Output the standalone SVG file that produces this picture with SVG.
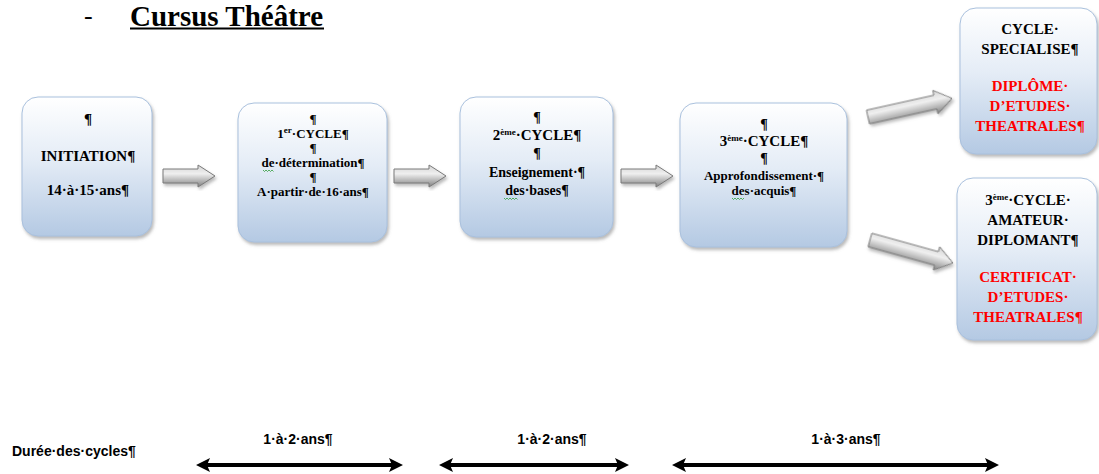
<svg xmlns="http://www.w3.org/2000/svg" width="1099" height="474" viewBox="0 0 1099 474">
<defs>
<linearGradient id="boxGrad" x1="0" y1="0" x2="0" y2="1">
<stop offset="0" stop-color="#ffffff"/>
<stop offset="0.45" stop-color="#e4ecf6"/>
<stop offset="1" stop-color="#b4c9e3"/>
</linearGradient>
<linearGradient id="arrGrad" x1="0" y1="0" x2="0" y2="1">
<stop offset="0" stop-color="#d4d4d4"/>
<stop offset="0.4" stop-color="#efefef"/>
<stop offset="1" stop-color="#808080"/>
</linearGradient>
<filter id="shadow" x="-10%" y="-10%" width="125%" height="125%">
<feDropShadow dx="1.5" dy="2.5" stdDeviation="1.5" flood-color="#7f7f7f" flood-opacity="0.55"/>
</filter>
<path id="hArrow" d="M0,-7 H35 V-11 L52,0 L35,11 V7 H0 Z"/>
<path id="dArrow" d="M0,-7 H69 V-12 L86,0 L69,12 V7 H0 Z"/>
<marker id="head" viewBox="0 0 14 14" markerWidth="14" markerHeight="14" refX="3" refY="7" orient="auto-start-reverse" markerUnits="userSpaceOnUse">
<path d="M0,0 L14,7 L0,14 L3,7 Z" fill="#000"/>
</marker>
</defs>
<style>
.box{fill:url(#boxGrad);stroke:#a9c0dd;stroke-width:1;filter:url(#shadow)}
.blk{fill:url(#arrGrad);stroke:#7a7a7a;stroke-width:1;filter:url(#shadow)}
.t{font-family:"Liberation Serif","Times New Roman",serif;font-weight:bold;fill:#000;text-anchor:middle}
.red{fill:#ff0000}
.s13{font-size:13px}
.s14{font-size:14px}
.s15{font-size:15px}
.sup{font-size:9px}
.sans{font-family:"Liberation Sans",Arial,sans-serif;font-weight:bold;font-size:14px;fill:#000}
.dbl{stroke:#000;stroke-width:4;fill:none;marker-start:url(#head);marker-end:url(#head)}
.sq{fill:none;stroke:#2e9c3a;stroke-width:0.8}
</style>

<g id="title">
<text x="84" y="24" font-family="Liberation Serif, serif" font-size="26">-</text>
<text x="130" y="25.5" font-family="Liberation Serif, serif" font-weight="bold" font-size="29">Cursus Théâtre</text>
<rect x="130" y="27.5" width="194" height="2" fill="#000"/>
</g>

<g id="node-initiation">
<rect class="box" x="22" y="97" width="130" height="139" rx="16"/>
<text class="t s15" x="88" y="124">¶</text>
<text class="t s15" x="88" y="161">INITIATION¶</text>
<text class="t s15" x="88" y="195">14·à·15·ans¶</text>
</g>

<g id="node-cycle1">
<rect class="box" x="238" y="103" width="149" height="139" rx="16"/>
<text class="t s13" x="313" y="123">¶</text>
<text class="t s13" x="313" y="138">1<tspan class="sup" dy="-5">er</tspan><tspan dy="5">·CYCLE¶</tspan></text>
<text class="t s13" x="313" y="152">¶</text>
<text class="t s13" x="313" y="167">de·détermination¶</text>
<path class="sq" d="M263,170 l1.5,1.5 l1.5,-1.5 l1.5,1.5 l1.5,-1.5 l1.5,1.5 l1.5,-1.5 l1.5,1.5"/>
<text class="t s13" x="313" y="181">¶</text>
<text class="t s13" x="313" y="196">A·partir·de·16·ans¶</text>
</g>

<g id="node-cycle2">
<rect class="box" x="460" y="97" width="153" height="140" rx="16"/>
<text class="t s14" x="537" y="122">¶</text>
<text class="t s15" x="537" y="140">2<tspan class="sup" dy="-5">ème</tspan><tspan dy="5">·CYCLE¶</tspan></text>
<text class="t s14" x="537" y="158">¶</text>
<text class="t s14" x="537" y="177">Enseignement·¶</text>
<text class="t s14" x="537" y="195">des·bases¶</text>
<path class="sq" d="M504,198 l1.5,1.5 l1.5,-1.5 l1.5,1.5 l1.5,-1.5 l1.5,1.5 l1.5,-1.5 l1.5,1.5 l1.5,-1.5 l1.5,1.5"/>
</g>

<g id="node-cycle3">
<rect class="box" x="680" y="103" width="167" height="144" rx="16"/>
<text class="t s14" x="764" y="129">¶</text>
<text class="t s15" x="764" y="146">3<tspan class="sup" dy="-5">ème</tspan><tspan dy="5">·CYCLE¶</tspan></text>
<text class="t s14" x="764" y="163">¶</text>
<text class="t s13" x="764" y="180">Approfondissement·¶</text>
<text class="t s13" x="764" y="195">des·acquis¶</text>
<path class="sq" d="M732,198 l1.5,1.5 l1.5,-1.5 l1.5,1.5 l1.5,-1.5 l1.5,1.5 l1.5,-1.5 l1.5,1.5 l1.5,-1.5"/>
</g>

<g id="node-specialise">
<rect class="box" x="960" y="8" width="137" height="146" rx="16"/>
<text class="t s15" x="1030" y="34">CYCLE·</text>
<text class="t s15" x="1030" y="54">SPECIALISE¶</text>
<text class="t s15 red" x="1030" y="91">DIPLÔME·</text>
<text class="t s15 red" x="1030" y="111">D’ETUDES·</text>
<text class="t s15 red" x="1030" y="131">THEATRALES¶</text>
</g>

<g id="node-amateur">
<rect class="box" x="957" y="178" width="140" height="162" rx="16"/>
<text class="t s15" x="1028" y="205">3<tspan class="sup" dy="-5">ème</tspan><tspan dy="5">·CYCLE·</tspan></text>
<text class="t s15" x="1028" y="225">AMATEUR·</text>
<text class="t s15" x="1028" y="245">DIPLOMANT¶</text>
<text class="t s15 red" x="1028" y="282">CERTIFICAT·</text>
<text class="t s15 red" x="1028" y="302">D’ETUDES·</text>
<text class="t s15 red" x="1028" y="322">THEATRALES¶</text>
</g>

<g id="connectors">
<use href="#hArrow" class="blk" transform="translate(163,176)"/>
<use href="#hArrow" class="blk" transform="translate(394,176)"/>
<use href="#hArrow" class="blk" transform="translate(621,176)"/>
<use href="#dArrow" class="blk" transform="translate(868,117) rotate(-12.5)"/>
<use href="#dArrow" class="blk" transform="translate(870,240) rotate(15.5)"/>
</g>

<g id="durations">
<text class="sans" x="12" y="456">Durée·des·cycles¶</text>
<text class="sans" x="298" y="444" text-anchor="middle">1·à·2·ans¶</text>
<text class="sans" x="552" y="444" text-anchor="middle">1·à·2·ans¶</text>
<text class="sans" x="846" y="444" text-anchor="middle">1·à·3·ans¶</text>
<line class="dbl" x1="207" y1="465" x2="392" y2="465"/>
<line class="dbl" x1="450" y1="465" x2="618" y2="465"/>
<line class="dbl" x1="683" y1="465" x2="988" y2="465"/>
</g>
</svg>
